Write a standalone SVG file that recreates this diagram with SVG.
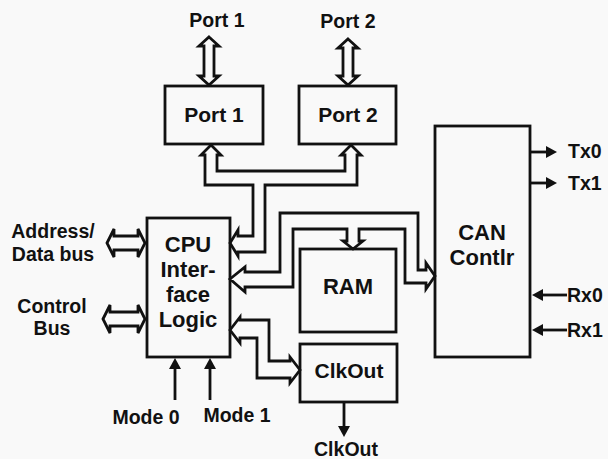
<svg xmlns="http://www.w3.org/2000/svg" width="608" height="459" viewBox="0 0 608 459">
<defs>
<marker id="ah" viewBox="0 0 11 12" markerWidth="11" markerHeight="12" refX="4" refY="6" orient="auto" markerUnits="userSpaceOnUse">
<path d="M0,0 L11,6 L0,12 Z" fill="#111"/>
</marker>
</defs>
<style>
.box{fill:none;stroke:#111;stroke-width:2.8}
.bus{fill:#f9f9f9;stroke:#111;stroke-width:2.8;stroke-linejoin:miter}
.sig{fill:none;stroke:#111;stroke-width:2.8;marker-end:url(#ah)}
text{font-family:"Liberation Sans",Arial,sans-serif;font-weight:bold;fill:#111;text-anchor:middle}
.lbl{font-size:19.5px}
.in{font-size:22px}
.in2{font-size:21px}
.tx{font-size:19.5px;text-anchor:start}
</style>
<rect width="608" height="459" fill="#f9f9f9"/>

<g id="connectors">
<path class="bus" d="M209,37 L219,46 L214,46 L214,76 L219,76 L209,85 L199,76 L204,76 L204,46 L199,46 Z"/>
<path class="bus" d="M348,39 L358,48 L353,48 L353,76 L358,76 L348,85 L338,76 L343,76 L343,48 L338,48 Z"/>
<path class="bus" d="M107,243 L114,229 L114,236 L138,236 L138,229 L145,243 L138,257 L138,250 L114,250 L114,257 Z"/>
<path class="bus" d="M103,319 L110,305 L110,312 L138,312 L138,305 L145,319 L138,333 L138,326 L110,326 L110,333 Z"/>
<path class="bus" d="M230,243 L238,230 L238,236 L253,236 L253,185 L205,185 L205,155 L201,155 L211,145 L221,155 L217,155 L217,171 L345,171 L345,155 L341,155 L351,145 L361,155 L357,155 L357,185 L265,185 L265,252 L238,252 L238,256 Z"/>
<path class="bus" d="M230,279 L245,267 L245,272 L280,272 L280,213 L418,213 L418,270 L426,270 L426,263 L435,276 L426,289 L426,283 L405,283 L405,229 L359,229 L359,241 L363,241 L353,249 L343,241 L347,241 L347,229 L293,229 L293,287 L245,287 L245,292 Z"/>
<path class="bus" d="M230,330 L240,317 L240,320 L269,320 L269,361 L290,361 L290,357 L300,370 L290,383 L290,378 L257,378 L257,338 L240,338 L240,343 Z"/>
<line class="sig" x1="175" y1="400" x2="175" y2="365"/>
<line class="sig" x1="210" y1="400" x2="210" y2="365"/>
<line class="sig" x1="344" y1="402" x2="344" y2="430"/>
<line class="sig" x1="530" y1="152" x2="550" y2="152"/>
<line class="sig" x1="530" y1="183" x2="550" y2="183"/>
<line class="sig" x1="567" y1="295" x2="539" y2="295"/>
<line class="sig" x1="567" y1="330" x2="539" y2="330"/>
</g>

<g id="port1">
<rect class="box" x="165" y="86" width="98" height="58"/>
<text class="in2" x="214" y="122">Port 1</text>
</g>
<g id="port2">
<rect class="box" x="299" y="86" width="97" height="58"/>
<text class="in2" x="348" y="122">Port 2</text>
</g>
<g id="cpu">
<rect class="box" x="147" y="218" width="83" height="139"/>
<text class="in" x="188" y="252">CPU</text>
<text class="in" x="188" y="277">Inter-</text>
<text class="in" x="188" y="302">face</text>
<text class="in" x="188" y="327">Logic</text>
</g>
<g id="ram">
<rect class="box" x="300" y="249" width="96" height="83"/>
<text class="in" x="348" y="294">RAM</text>
</g>
<g id="clkout">
<rect class="box" x="300" y="344" width="97" height="58"/>
<text class="in2" x="349" y="378">ClkOut</text>
</g>
<g id="can">
<rect class="box" x="435" y="126" width="95" height="231"/>
<text class="in" x="482" y="240">CAN</text>
<text class="in" x="482" y="265">Contlr</text>
</g>

<g id="labels">
<text class="lbl" x="217" y="27">Port 1</text>
<text class="lbl" x="348" y="28">Port 2</text>
<text class="lbl" x="53" y="238">Address/</text>
<text class="lbl" x="53" y="261">Data bus</text>
<text class="lbl" x="52" y="313">Control</text>
<text class="lbl" x="52" y="335">Bus</text>
<text class="lbl" x="146" y="424">Mode 0</text>
<text class="lbl" x="237" y="422">Mode 1</text>
<text class="lbl" x="346" y="456">ClkOut</text>
<text class="tx" x="568" y="158">Tx0</text>
<text class="tx" x="568" y="190">Tx1</text>
<text class="tx" x="567" y="302">Rx0</text>
<text class="tx" x="567" y="337">Rx1</text>
</g>
</svg>
